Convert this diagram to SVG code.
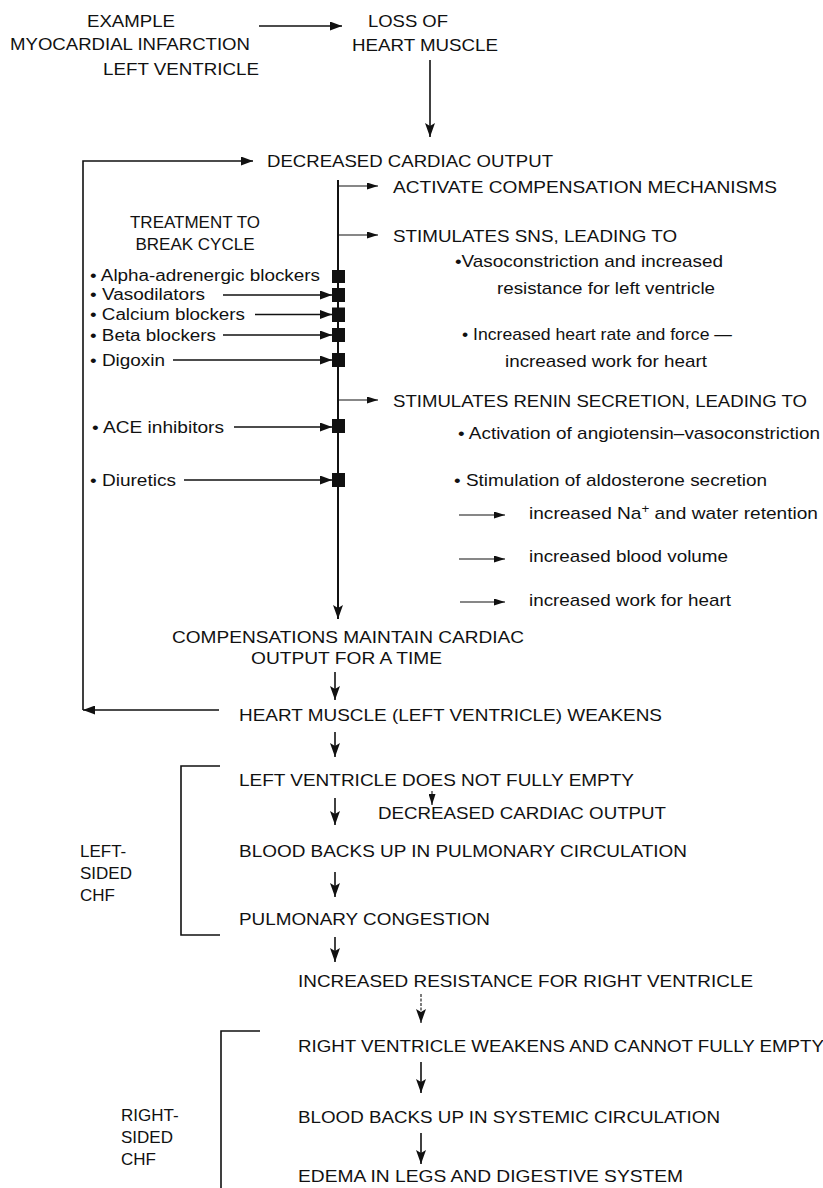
<svg xmlns="http://www.w3.org/2000/svg" width="823" height="1188" viewBox="0 0 823 1188">
<style>
text{font-family:"Liberation Sans",Arial,sans-serif;fill:#111;}
.t{font-size:17px;}
.s{font-size:16px;}
.c{stroke:#111;fill:none;stroke-width:1.6;}
.thin{stroke:#111;fill:none;stroke-width:1.1;}
.main{stroke:#111;fill:none;stroke-width:2;}
.sq{fill:#111;}
</style>
<defs>
<marker id="ah" markerUnits="userSpaceOnUse" markerWidth="12" markerHeight="9" refX="12" refY="4.5" orient="auto"><path d="M0,0 L12,4.5 L0,9 Z" fill="#111"/></marker>
<marker id="ahd" markerUnits="userSpaceOnUse" markerWidth="14" markerHeight="10" refX="14" refY="5" orient="auto"><path d="M0,0 L14,5 L0,10 L3,5 Z" fill="#111"/></marker>
<marker id="ahs" markerUnits="userSpaceOnUse" markerWidth="11" markerHeight="7" refX="11" refY="3.5" orient="auto"><path d="M0,0 L11,3.5 L0,7 Z" fill="#111"/></marker>
</defs>

<g id="connectors">
<line class="c" x1="259" y1="26" x2="342" y2="26" marker-end="url(#ah)"/>
<line class="c" x1="430" y1="60" x2="430" y2="137" marker-end="url(#ahd)"/>
<polyline class="c" points="219,710 83,710" marker-end="url(#ah)"/>
<polyline class="c" points="83,710 83,161 253,161" marker-end="url(#ah)"/>
<line class="main" x1="338" y1="180" x2="338" y2="619" marker-end="url(#ahd)"/>
<line class="thin" x1="338" y1="186" x2="378" y2="186" marker-end="url(#ahs)"/>
<line class="thin" x1="338" y1="235" x2="378" y2="235" marker-end="url(#ahs)"/>
<line class="thin" x1="338" y1="400" x2="378" y2="400" marker-end="url(#ahs)"/>
<line class="c" x1="223" y1="295" x2="332" y2="295" marker-end="url(#ah)"/>
<line class="c" x1="255" y1="314.5" x2="332" y2="314.5" marker-end="url(#ah)"/>
<line class="c" x1="223" y1="335" x2="332" y2="335" marker-end="url(#ah)"/>
<line class="c" x1="173" y1="360" x2="332" y2="360" marker-end="url(#ah)"/>
<line class="c" x1="234" y1="427" x2="332" y2="427" marker-end="url(#ah)"/>
<line class="c" x1="184" y1="480" x2="332" y2="480" marker-end="url(#ah)"/>
<line class="thin" x1="459" y1="515" x2="505" y2="515" marker-end="url(#ahs)"/>
<line class="thin" x1="459" y1="559" x2="505" y2="559" marker-end="url(#ahs)"/>
<line class="thin" x1="460" y1="602" x2="505" y2="602" marker-end="url(#ahs)"/>
<line class="c" x1="335" y1="672" x2="335" y2="700" marker-end="url(#ahd)"/>
<line class="c" x1="335" y1="732" x2="335" y2="757" marker-end="url(#ahd)"/>
<line class="thin" x1="432" y1="791" x2="432" y2="805" marker-end="url(#ahs)"/>
<line class="c" x1="335" y1="798" x2="335" y2="825" marker-end="url(#ahd)"/>
<line class="c" x1="335" y1="872" x2="335" y2="897" marker-end="url(#ahd)"/>
<line class="c" x1="335" y1="937" x2="335" y2="962" marker-end="url(#ahd)"/>
<line class="thin" x1="421" y1="994" x2="421" y2="1023" stroke-dasharray="3,1.5" marker-end="url(#ahd)"/>
<line class="c" x1="421" y1="1062" x2="421" y2="1093" marker-end="url(#ahd)"/>
<line class="c" x1="421" y1="1133" x2="421" y2="1164" marker-end="url(#ahd)"/>
<polyline class="c" points="220,766 181,766 181,935 220,935"/>
<polyline class="c" points="260,1031 221,1031 221,1188"/>
</g>

<g id="blockers">
<rect class="sq" x="332" y="270" width="13" height="13"/>
<rect class="sq" x="332" y="288" width="13" height="14"/>
<rect class="sq" x="332" y="307.5" width="13" height="14.5"/>
<rect class="sq" x="332" y="328" width="13" height="14"/>
<rect class="sq" x="332" y="353" width="13" height="14"/>
<rect class="sq" x="332" y="419" width="13" height="14"/>
<rect class="sq" x="332" y="473" width="13" height="14"/>
</g>

<g id="n-example"><text class="t" x="87" y="27" textLength="88" lengthAdjust="spacingAndGlyphs">EXAMPLE</text>
<text class="t" x="10" y="50" textLength="240" lengthAdjust="spacingAndGlyphs">MYOCARDIAL INFARCTION</text>
<text class="t" x="103" y="75" textLength="156" lengthAdjust="spacingAndGlyphs">LEFT VENTRICLE</text></g>

<g id="n-loss"><text class="t" x="368" y="27" textLength="80" lengthAdjust="spacingAndGlyphs">LOSS OF</text>
<text class="t" x="352" y="51" textLength="146" lengthAdjust="spacingAndGlyphs">HEART MUSCLE</text></g>

<g id="n-dco"><text class="t" x="267" y="167" textLength="286" lengthAdjust="spacingAndGlyphs">DECREASED CARDIAC OUTPUT</text></g>
<g id="n-activate"><text class="t" x="393" y="193" textLength="384" lengthAdjust="spacingAndGlyphs">ACTIVATE COMPENSATION MECHANISMS</text></g>
<g id="n-sns"><text class="t" x="393" y="242" textLength="284" lengthAdjust="spacingAndGlyphs">STIMULATES SNS, LEADING TO</text>
<text class="t" x="455" y="267" textLength="268" lengthAdjust="spacingAndGlyphs">•Vasoconstriction and increased</text>
<text class="t" x="497" y="294" textLength="218" lengthAdjust="spacingAndGlyphs">resistance for left ventricle</text>
<text class="t" x="462" y="340" textLength="270" lengthAdjust="spacingAndGlyphs">• Increased heart rate and force —</text>
<text class="t" x="505" y="367" textLength="202" lengthAdjust="spacingAndGlyphs">increased work for heart</text></g>

<g id="n-renin"><text class="t" x="393" y="407" textLength="414" lengthAdjust="spacingAndGlyphs">STIMULATES RENIN SECRETION, LEADING TO</text>
<text class="t" x="458" y="439" textLength="362" lengthAdjust="spacingAndGlyphs">• Activation of angiotensin–vasoconstriction</text>
<text class="t" x="454" y="486" textLength="313" lengthAdjust="spacingAndGlyphs">• Stimulation of aldosterone secretion</text>
<text class="t" x="529" y="519" textLength="289" lengthAdjust="spacingAndGlyphs">increased Na<tspan dy="-6" font-size="12">+</tspan><tspan dy="6"> and water retention</tspan></text>
<text class="t" x="529" y="562" textLength="199" lengthAdjust="spacingAndGlyphs">increased blood volume</text>
<text class="t" x="529" y="606" textLength="202" lengthAdjust="spacingAndGlyphs">increased work for heart</text></g>

<g id="n-treatment"><text class="t" x="195" y="228" text-anchor="middle">TREATMENT TO</text>
<text class="t" x="195" y="250" text-anchor="middle">BREAK CYCLE</text>
<text class="s" x="90" y="281" textLength="230" lengthAdjust="spacingAndGlyphs">• Alpha-adrenergic blockers</text>
<text class="s" x="90" y="300" textLength="115" lengthAdjust="spacingAndGlyphs">• Vasodilators</text>
<text class="s" x="90" y="320" textLength="155" lengthAdjust="spacingAndGlyphs">• Calcium blockers</text>
<text class="s" x="90" y="341" textLength="126" lengthAdjust="spacingAndGlyphs">• Beta blockers</text>
<text class="s" x="90" y="366" textLength="75" lengthAdjust="spacingAndGlyphs">• Digoxin</text>
<text class="s" x="92" y="433" textLength="132" lengthAdjust="spacingAndGlyphs">• ACE inhibitors</text>
<text class="s" x="90" y="486" textLength="86" lengthAdjust="spacingAndGlyphs">• Diuretics</text></g>

<g id="n-comp"><text class="t" x="172" y="643" textLength="352" lengthAdjust="spacingAndGlyphs">COMPENSATIONS MAINTAIN CARDIAC</text>
<text class="t" x="251" y="664" textLength="191" lengthAdjust="spacingAndGlyphs">OUTPUT FOR A TIME</text></g>
<g id="n-weakens"><text class="t" x="239" y="721" textLength="423" lengthAdjust="spacingAndGlyphs">HEART MUSCLE (LEFT VENTRICLE) WEAKENS</text></g>
<g id="n-lvempty"><text class="t" x="239" y="786" textLength="395" lengthAdjust="spacingAndGlyphs">LEFT VENTRICLE DOES NOT FULLY EMPTY</text></g>
<g id="n-dco2"><text class="t" x="378" y="819" textLength="288" lengthAdjust="spacingAndGlyphs">DECREASED CARDIAC OUTPUT</text></g>
<g id="n-pulm"><text class="t" x="239" y="857" textLength="448" lengthAdjust="spacingAndGlyphs">BLOOD BACKS UP IN PULMONARY CIRCULATION</text></g>
<g id="n-cong"><text class="t" x="239" y="925" textLength="251" lengthAdjust="spacingAndGlyphs">PULMONARY CONGESTION</text></g>
<g id="n-leftchf"><text class="t" x="80" y="857">LEFT-</text><text class="t" x="80" y="879">SIDED</text><text class="t" x="80" y="901">CHF</text></g>
<g id="n-resist"><text class="t" x="298" y="987" textLength="455" lengthAdjust="spacingAndGlyphs">INCREASED RESISTANCE FOR RIGHT VENTRICLE</text></g>
<g id="n-rvweak"><text class="t" x="298" y="1052" textLength="526" lengthAdjust="spacingAndGlyphs">RIGHT VENTRICLE WEAKENS AND CANNOT FULLY EMPTY</text></g>
<g id="n-systemic"><text class="t" x="298" y="1123" textLength="422" lengthAdjust="spacingAndGlyphs">BLOOD BACKS UP IN SYSTEMIC CIRCULATION</text></g>
<g id="n-edema"><text class="t" x="298" y="1182" textLength="385" lengthAdjust="spacingAndGlyphs">EDEMA IN LEGS AND DIGESTIVE SYSTEM</text></g>
<g id="n-rightchf"><text class="t" x="121" y="1121">RIGHT-</text><text class="t" x="121" y="1143">SIDED</text><text class="t" x="121" y="1165">CHF</text></g>
</svg>
